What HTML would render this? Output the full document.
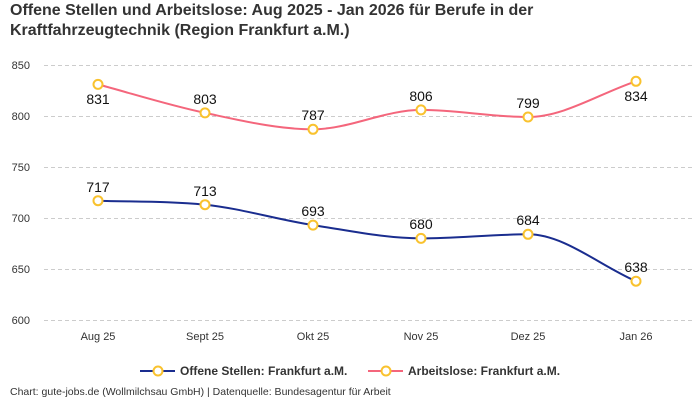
<!DOCTYPE html>
<html><head><meta charset="utf-8"><style>
body{margin:0;background:#fff;}
svg{display:block;font-family:"Liberation Sans",sans-serif;}
</style></head><body>
<svg width="700" height="400" viewBox="0 0 700 400">
<text x="10" y="15" font-size="16" font-weight="bold" fill="#333">Offene Stellen und Arbeitslose: Aug 2025 - Jan 2026 für Berufe in der</text>
<text x="10" y="35" font-size="16" font-weight="bold" fill="#333">Kraftfahrzeugtechnik (Region Frankfurt a.M.)</text>
<g stroke="#ccc" stroke-dasharray="4,3" stroke-width="1">
<line x1="44" x2="692" y1="65.5" y2="65.5"/><line x1="44" x2="692" y1="116.5" y2="116.5"/>
<line x1="44" x2="692" y1="167.5" y2="167.5"/><line x1="44" x2="692" y1="218.5" y2="218.5"/>
<line x1="44" x2="692" y1="269.5" y2="269.5"/><line x1="44" x2="692" y1="320.5" y2="320.5"/>
</g>
<g font-size="11" fill="#333" text-anchor="end">
<text x="30" y="69">850</text><text x="30" y="120">800</text><text x="30" y="171">750</text>
<text x="30" y="222">700</text><text x="30" y="273">650</text><text x="30" y="324">600</text>
</g>
<g font-size="11" fill="#333" text-anchor="middle">
<text x="98" y="340">Aug 25</text><text x="205" y="340">Sept 25</text><text x="313" y="340">Okt 25</text>
<text x="421" y="340">Nov 25</text><text x="528" y="340">Dez 25</text><text x="636" y="340">Jan 26</text>
</g>
<path d="M98,84.4 C134,94.1 169,105.3 205,112.9 C241,120.5 277,129.3 313,129.3 C349,129.3 385,109.9 421,109.9 C457,109.9 492,117 528,117 C564,117 600,93.2 636,81.3" fill="none" stroke="#f4667c" stroke-width="2"/>
<path d="M98,200.7 C134,201.8 169,201.1 205,204.7 C241,208.3 277,219.7 313,225.1 C349,230.5 385,238.4 421,238.4 C457,238.4 492,234.3 528,234.3 C564,234.3 600,265.7 636,281.2" fill="none" stroke="#1a2d8f" stroke-width="2"/>
<g fill="#fff" stroke="#f9c22e" stroke-width="2">
<circle cx="98" cy="84.4" r="4.5"/><circle cx="205" cy="112.9" r="4.5"/><circle cx="313" cy="129.3" r="4.5"/>
<circle cx="421" cy="109.9" r="4.5"/><circle cx="528" cy="117" r="4.5"/><circle cx="636" cy="81.3" r="4.5"/>
<circle cx="98" cy="200.7" r="4.5"/><circle cx="205" cy="204.7" r="4.5"/><circle cx="313" cy="225.1" r="4.5"/>
<circle cx="421" cy="238.4" r="4.5"/><circle cx="528" cy="234.3" r="4.5"/><circle cx="636" cy="281.2" r="4.5"/>
</g>
<g font-size="14" fill="#111" text-anchor="middle">
<text x="98" y="104">831</text><text x="205" y="104">803</text><text x="313" y="120">787</text>
<text x="421" y="101">806</text><text x="528" y="108">799</text><text x="636" y="101">834</text>
<text x="98" y="192">717</text><text x="205" y="196">713</text><text x="313" y="216">693</text>
<text x="421" y="229">680</text><text x="528" y="225">684</text><text x="636" y="272">638</text>
</g>
<line x1="140" x2="175" y1="371" y2="371" stroke="#1a2d8f" stroke-width="2"/>
<circle cx="158" cy="371" r="4.5" fill="#fff" stroke="#f9c22e" stroke-width="2"/>
<text x="180" y="375" font-size="12" font-weight="bold" fill="#333">Offene Stellen: Frankfurt a.M.</text>
<line x1="368" x2="403" y1="371" y2="371" stroke="#f4667c" stroke-width="2"/>
<circle cx="386" cy="371" r="4.5" fill="#fff" stroke="#f9c22e" stroke-width="2"/>
<text x="408" y="375" font-size="12" font-weight="bold" fill="#333">Arbeitslose: Frankfurt a.M.</text>
<text x="10" y="395" font-size="10.5" fill="#333">Chart: gute-jobs.de (Wollmilchsau GmbH) | Datenquelle: Bundesagentur für Arbeit</text>
</svg>
</body></html>
